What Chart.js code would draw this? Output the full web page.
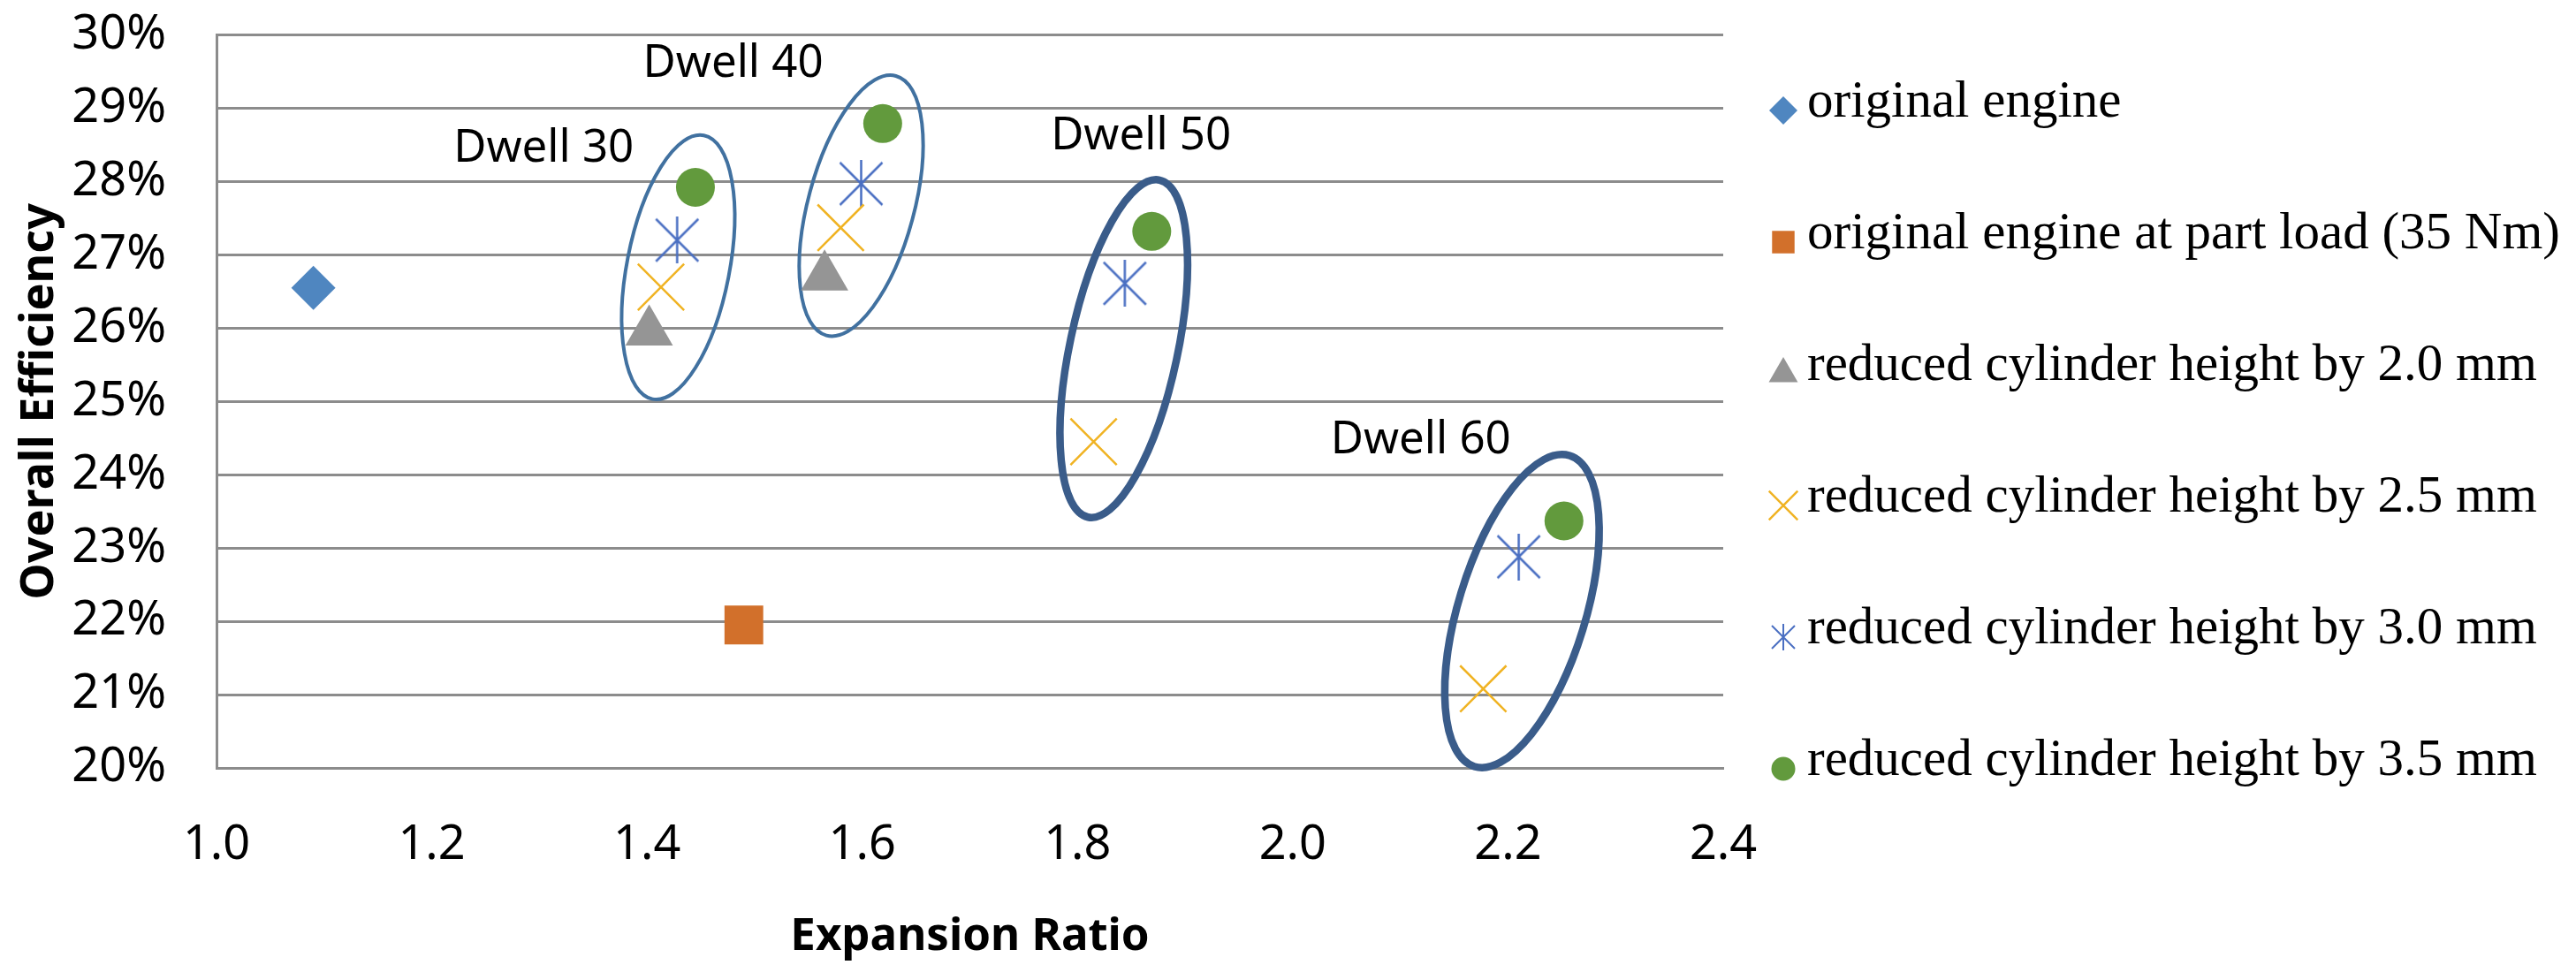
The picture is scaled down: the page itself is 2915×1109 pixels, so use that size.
<!DOCTYPE html>
<html>
<head>
<meta charset="utf-8">
<title>Overall Efficiency vs Expansion Ratio</title>
<script src="https://cdn.jsdelivr.net/npm/chart.js@4.4.1/dist/chart.umd.min.js"></script>
<style>
  html, body { margin: 0; padding: 0; background: #fff; }
  canvas { display: block; }
</style>
</head>
<body>
<canvas id="effChart" width="2915" height="1109"></canvas>
<script>
// values (x = expansion ratio, y = overall efficiency in %)
const seriesNames = [
  'original engine',
  'original engine at part load (35 Nm)',
  'reduced cylinder height by 2.0 mm',
  'reduced cylinder height by 2.5 mm',
  'reduced cylinder height by 3.0 mm',
  'reduced cylinder height by 3.5 mm'
];

const originalX = [1.09];
const originalY = [26.55];

const partLoadX = [1.49];
const partLoadY = [21.95];

const cut20X = [1.402, 1.565];
const cut20Y = [25.95, 26.70];

const cut25X = [1.413, 1.580, 1.815, 2.177];
const cut25Y = [26.56, 27.37, 24.45, 21.08];

const cut30X = [1.428, 1.599, 1.844, 2.210];
const cut30Y = [27.20, 27.97, 26.61, 22.88];

const cut35X = [1.445, 1.619, 1.869, 2.252];
const cut35Y = [27.92, 28.79, 27.32, 23.37];

const xTickValues = [1.0, 1.2, 1.4, 1.6, 1.8, 2.0, 2.2, 2.4];
const yTickValues = [20, 21, 22, 23, 24, 25, 26, 27, 28, 29, 30];

// dwell groups: label spot and ring centre, in data units
const dwellNames = ['Dwell 30', 'Dwell 40', 'Dwell 50', 'Dwell 60'];
const dwellLabelX = [1.304, 1.480, 1.859, 2.119];
const dwellLabelY = [28.44, 29.60, 28.62, 24.47];
const dwellRingX = [1.429, 1.599, 1.843, 2.213];
const dwellRingY = [26.83, 27.67, 25.72, 22.14];

// looks
const sans = '"Noto Sans", "DejaVu Sans", sans-serif';
const serif = '"Liberation Serif", "Times New Roman", serif';
const gridGray = '#8c8c8c';

const ringLook = [
  { rx: 58, ry: 152, tilt: 11, width: 4, color: '#4171a0' },
  { rx: 60, ry: 152, tilt: 15, width: 4, color: '#4171a0' },
  { rx: 61, ry: 195, tilt: 12, width: 8.5, color: '#3a5c8a' },
  { rx: 72, ry: 184, tilt: 17, width: 8.5, color: '#3a5c8a' }
];

const legendLook = {
  markX: 2018, textX: 2045, top: 125, step: 149, baseShift: 7,
  font: '59px ' + serif, color: '#000',
  radius: [16, 18, 19, 23, 0, 13.5]
};

function pairs(xs, ys) {
  return xs.map((x, i) => ({ x: x, y: ys[i] }));
}

// asterisk marker: vertical bar plus two diagonals
function asterisk(size, color, lw) {
  const c = document.createElement('canvas');
  c.width = size;
  c.height = size;
  const g = c.getContext('2d');
  g.strokeStyle = color;
  g.lineWidth = lw;
  g.beginPath();
  g.moveTo(size / 2, 0); g.lineTo(size / 2, size);
  g.moveTo(lw, lw); g.lineTo(size - lw, size - lw);
  g.moveTo(size - lw, lw); g.lineTo(lw, size - lw);
  g.stroke();
  return c;
}

const starBlue = '#4a6fc2';

const datasets = [
  { label: seriesNames[0], data: pairs(originalX, originalY), pointStyle: 'rectRot', pointRadius: 25,
    backgroundColor: '#4f86c0', borderColor: '#4f86c0', pointBorderWidth: 0 },
  { label: seriesNames[1], data: pairs(partLoadX, partLoadY), pointStyle: 'rect', pointRadius: 31,
    backgroundColor: '#d2702b', borderColor: '#d2702b', pointBorderWidth: 0 },
  { label: seriesNames[2], data: pairs(cut20X, cut20Y), pointStyle: 'triangle', pointRadius: 31,
    backgroundColor: '#959595', borderColor: '#959595', pointBorderWidth: 0 },
  { label: seriesNames[3], data: pairs(cut25X, cut25Y), pointStyle: 'crossRot', pointRadius: 37,
    backgroundColor: '#f0b323', borderColor: '#f0b323', pointBorderWidth: 2.5 },
  { label: seriesNames[4], data: pairs(cut30X, cut30Y), pointStyle: asterisk(53, starBlue, 2.5),
    legendStyle: asterisk(30, starBlue, 2), pointRadius: 27,
    backgroundColor: starBlue, borderColor: starBlue, pointBorderWidth: 0 },
  { label: seriesNames[5], data: pairs(cut35X, cut35Y), pointStyle: 'circle', pointRadius: 22,
    backgroundColor: '#629a3d', borderColor: '#629a3d', pointBorderWidth: 0 }
];

// rings and "Dwell" captions
const dwellNotes = {
  id: 'dwellNotes',
  beforeDatasetsDraw(chart) {
    const { ctx, scales: { x, y } } = chart;
    ctx.save();
    dwellNames.forEach((name, i) => {
      const r = ringLook[i];
      ctx.beginPath();
      ctx.ellipse(x.getPixelForValue(dwellRingX[i]), y.getPixelForValue(dwellRingY[i]),
        r.rx, r.ry, r.tilt * Math.PI / 180, 0, Math.PI * 2);
      ctx.lineWidth = r.width;
      ctx.strokeStyle = r.color;
      ctx.stroke();

      ctx.fillStyle = '#000';
      ctx.font = '51px ' + sans;
      ctx.textAlign = 'center';
      ctx.textBaseline = 'middle';
      ctx.fillText(name, x.getPixelForValue(dwellLabelX[i]), y.getPixelForValue(dwellLabelY[i]));
    });
    ctx.restore();
  }
};

// legend on the right, one row per series
const sideLegend = {
  id: 'sideLegend',
  afterDraw(chart) {
    const ctx = chart.ctx;
    const L = legendLook;
    ctx.save();
    chart.data.datasets.forEach((ds, i) => {
      const y = L.top + i * L.step;
      ctx.fillStyle = ds.backgroundColor;
      ctx.strokeStyle = ds.borderColor;
      ctx.lineWidth = ds.pointBorderWidth;
      Chart.helpers.drawPoint(ctx, {
        pointStyle: ds.legendStyle || ds.pointStyle,
        rotation: 0,
        radius: L.radius[i],
        borderWidth: ds.pointBorderWidth
      }, L.markX, y);

      ctx.fillStyle = L.color;
      ctx.font = L.font;
      ctx.textAlign = 'left';
      ctx.textBaseline = 'alphabetic';
      ctx.fillText(ds.label, L.textX, y + L.baseShift);
    });
    ctx.restore();
  }
};

new Chart(document.getElementById('effChart'), {
  type: 'scatter',
  data: { datasets: datasets },
  plugins: [dwellNotes, sideLegend],
  options: {
    responsive: false,
    devicePixelRatio: 1,
    animation: false,
    events: [],
    layout: { padding: { left: 0, right: 965, top: 37, bottom: 0 } },
    plugins: {
      legend: { display: false },
      tooltip: { enabled: false }
    },
    scales: {
      x: {
        type: 'linear',
        min: 1.0,
        max: 2.4,
        afterBuildTicks: s => { s.ticks = xTickValues.map(v => ({ value: v })); },
        afterFit: s => { s.height = 240; },
        grid: { display: false, drawTicks: false },
        border: { display: true, color: gridGray, width: 3 },
        ticks: {
          padding: 55,
          color: '#000',
          maxRotation: 0,
          autoSkip: false,
          font: { family: sans, size: 54 },
          callback: v => v.toFixed(1)
        },
        title: {
          display: true,
          text: 'Expansion Ratio',
          color: '#000',
          font: { family: sans, size: 51, weight: 'bold' },
          padding: { top: 0, bottom: 18 }
        }
      },
      y: {
        type: 'linear',
        min: 20,
        max: 30,
        afterBuildTicks: s => { s.ticks = yTickValues.map(v => ({ value: v })); },
        // fixed axis width; labels may hang into the top margin
        afterFit: s => { s.width = 245; s.paddingTop = 0; s.paddingBottom = 0; },
        grid: { color: gridGray, lineWidth: 3, drawTicks: false },
        border: { display: true, color: gridGray, width: 3 },
        ticks: {
          padding: 57,
          color: '#000',
          font: { family: sans, size: 54 },
          callback: v => v + '%'
        },
        title: {
          display: true,
          text: 'Overall Efficiency',
          color: '#000',
          font: { family: sans, size: 52, weight: 'bold' },
          padding: { top: 14, bottom: 0 }
        }
      }
    }
  }
});
</script>
</body>
</html>
